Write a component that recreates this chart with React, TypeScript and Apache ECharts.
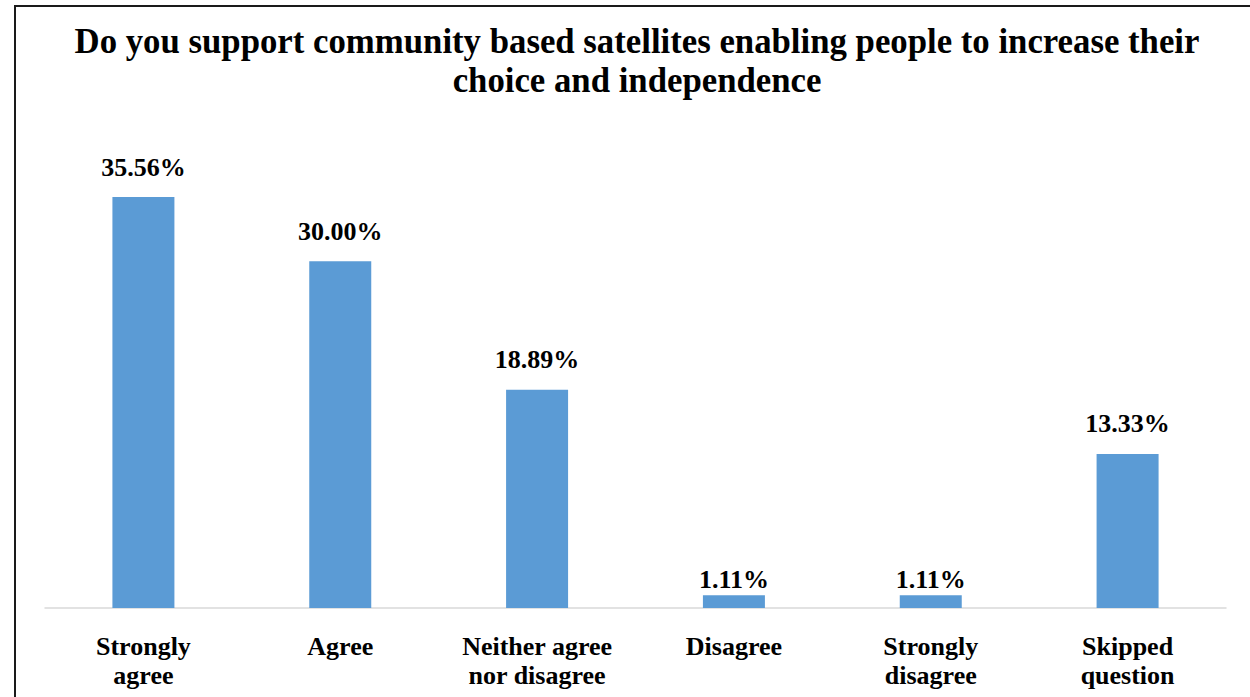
import React, { useEffect, useRef } from "react";
import * as echarts from "echarts";

const titleText = "Do you support community based satellites enabling people to increase their\nchoice and independence";
const categories = ["Strongly\nagree", "Agree", "Neither agree\nnor disagree", "Disagree", "Strongly\ndisagree", "Skipped\nquestion"];
const values = [35.56, 30.0, 18.89, 1.11, 1.11, 13.33];

const FONT = '"Liberation Serif", "Times New Roman", serif';

export default function App() {
  const ref = useRef<HTMLDivElement>(null);
  useEffect(() => {
    if (!ref.current) return;
    const chart = echarts.init(ref.current, undefined, { renderer: "svg" });
    chart.setOption({
      animation: false,
      backgroundColor: "#ffffff",
      title: {
        text: titleText,
        left: 632,
        textAlign: "center",
        top: 17,
        textStyle: {
          fontFamily: FONT,
          fontWeight: "bold",
          fontSize: 34.75,
          lineHeight: 39,
          color: "#000000",
        },
      },
      graphic: [
        {
          type: "rect",
          shape: { x: 15, y: 6, width: 1300, height: 800 },
          style: { fill: "none", stroke: "#1a1a1a", lineWidth: 2 },
          silent: true,
        },
      ],
      grid: { left: 45, right: 24, top: 145.7, bottom: 89, containLabel: false },
      xAxis: {
        type: "category",
        data: categories,
        axisLine: { show: true, lineStyle: { color: "#d9d9d9", width: 1.5 } },
        axisTick: { show: false },
        axisLabel: {
          interval: 0,
          margin: 24,
          fontFamily: FONT,
          fontWeight: "bold",
          fontSize: 26,
          lineHeight: 29,
          color: "#000000",
        },
      },
      yAxis: {
        type: "value",
        min: 0,
        max: 40,
        show: false,
        splitLine: { show: false },
      },
      series: [
        {
          type: "bar",
          data: values.map((v) => ({
            value: v,
            label: v < 5 ? { distance: 3 } : undefined,
          })),
          barWidth: 62,
          itemStyle: { color: "#5b9bd5" },
          label: {
            show: true,
            position: "top",
            distance: 17,
            formatter: (p: any) => p.value.toFixed(2) + "%",
            fontFamily: FONT,
            fontWeight: "bold",
            fontSize: 26,
            color: "#000000",
          },
        },
      ],
    });
    return () => chart.dispose();
  }, []);
  return (
    <div
      ref={ref}
      style={{ position: "fixed", left: 0, top: 0, width: 1250, height: 697 }}
    />
  );
}
